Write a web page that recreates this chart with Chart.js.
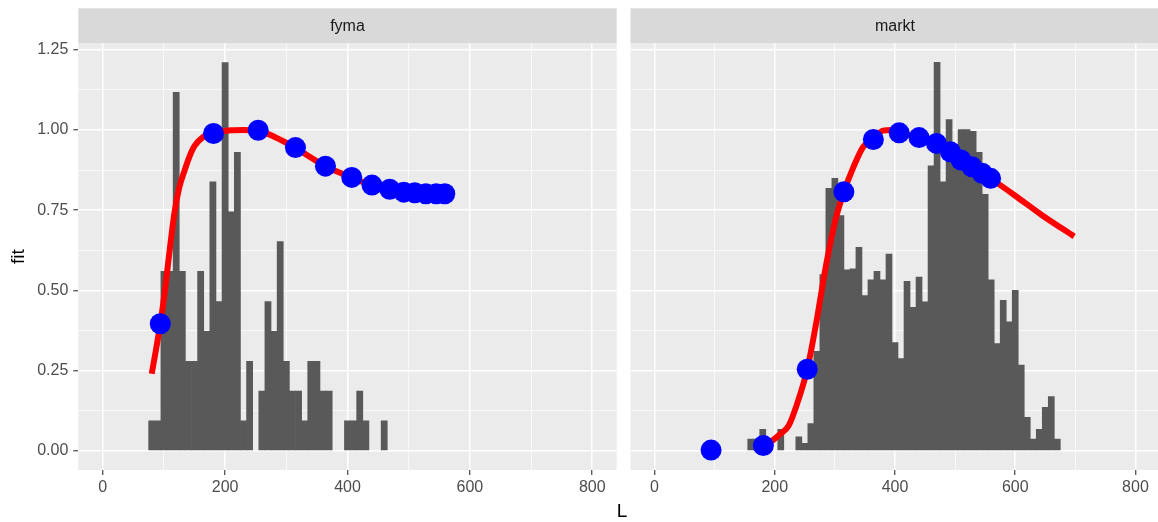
<!DOCTYPE html>
<html>
<head>
<meta charset="utf-8">
<title>fit ~ L</title>
<script src="https://cdn.jsdelivr.net/npm/chart.js@4.4.1/dist/chart.umd.min.js"></script>
<style>
  body { margin: 0; background: #fff; overflow: hidden; width: 1158px; height: 522px; position: relative; }
  canvas { position: absolute; top: 0; }
</style>
</head>
<body>
<canvas id="fyma" width="640" height="522" style="left:0px"></canvas>
<canvas id="markt" width="550" height="522" style="left:620px"></canvas>
<script>
// histogram bins (L, binwidth 10) and their scaled heights
var fymaBinL = [80, 90, 100, 110, 120, 130, 140, 150, 160, 170, 180, 190, 200, 210, 220, 230, 240,
                260, 270, 280, 290, 300, 310, 320, 330, 340, 350, 360, 370, 400, 410, 420, 430, 460];
var fymaBinH = [0.093, 0.093, 0.559, 0.559, 1.117, 0.559, 0.279, 0.279, 0.559, 0.372, 0.838, 0.465, 1.21, 0.745, 0.93, 0.093, 0.279,
                0.186, 0.465, 0.372, 0.652, 0.279, 0.186, 0.186, 0.093, 0.279, 0.279, 0.186, 0.186, 0.093, 0.093, 0.186, 0.093, 0.093];

var marktBinL = [160, 170, 180, 210, 240, 250, 260, 270, 280, 290, 300, 310, 320, 330, 340, 350, 360, 370, 380, 390,
                 400, 410, 420, 430, 440, 450, 460, 470, 480, 490, 500, 510, 520, 530, 540, 550, 560, 570, 580, 590,
                 600, 610, 620, 630, 640, 650, 660, 670];
var marktBinH = [0.036, 0.036, 0.067, 0.067, 0.043, 0.023, 0.085, 0.31, 0.549, 0.818, 0.849, 0.733, 0.564, 0.567, 0.634, 0.484, 0.533, 0.559, 0.533, 0.613,
                 0.337, 0.287, 0.528, 0.447, 0.541, 0.464, 0.888, 1.211, 0.838, 1.032, 0.93, 1.001, 1.001, 0.996, 0.93, 0.799, 0.533, 0.334, 0.469, 0.402,
                 0.5, 0.267, 0.104, 0.036, 0.067, 0.135, 0.169, 0.036];

// observed L values and fitted selectivity at them
var pointL = [94, 181, 254, 315, 364, 407, 440, 469, 492, 510, 528, 545, 559];
var fymaPointFit  = [0.396, 0.989, 0.999, 0.945, 0.887, 0.852, 0.828, 0.815, 0.806, 0.804, 0.801, 0.801, 0.801];
var marktPointFit = [0.002, 0.016, 0.254, 0.807, 0.97, 0.991, 0.976, 0.958, 0.932, 0.906, 0.885, 0.865, 0.849];

// fitted curves
var fymaCurveL   = [80, 87, 94, 101, 109, 117, 125, 134, 142, 150, 164, 180, 210, 230, 253, 281, 314, 364, 406, 439, 468, 492, 510, 527, 545, 559];
var fymaCurveFit = [0.24, 0.315, 0.396, 0.49, 0.62, 0.74, 0.82, 0.875, 0.918, 0.95, 0.978, 0.99, 0.999, 1.0, 0.998, 0.978, 0.945, 0.887, 0.852, 0.828, 0.815, 0.806, 0.804, 0.801, 0.801, 0.8];
var marktCurveL   = [165, 182, 195, 209, 223, 236, 254, 269, 285, 301, 315, 331, 347, 365, 380, 395, 407, 440, 470, 492, 510, 529, 546, 559, 600, 644, 698];
var marktCurveFit = [0.01, 0.016, 0.03, 0.052, 0.078, 0.14, 0.254, 0.399, 0.575, 0.72, 0.807, 0.885, 0.947, 0.975, 0.998, 1.0, 0.991, 0.976, 0.958, 0.932, 0.906, 0.885, 0.865, 0.849, 0.795, 0.735, 0.668];

var xTickLabels = ['0', '200', '400', '600', '800'];

Chart.defaults.font.family = '"Liberation Sans", Arial, sans-serif';

function xy(xs, ys) {
  return xs.map(function (x, i) { return { x: x, y: ys[i] }; });
}

var panelPlugin = {
  id: 'panel',
  beforeDraw: function (chart, args, opts) {
    var a = chart.chartArea, ctx = chart.ctx;
    ctx.save();
    ctx.fillStyle = '#EBEBEB';
    ctx.fillRect(a.left, a.top, a.right - a.left, a.bottom - a.top);
    ctx.fillStyle = '#D9D9D9';
    ctx.fillRect(a.left, 8.3, a.right - a.left, a.top - 8.3);
    ctx.fillStyle = '#1A1A1A';
    ctx.font = '16px "Liberation Sans", Arial, sans-serif';
    ctx.textAlign = 'center';
    ctx.textBaseline = 'middle';
    ctx.fillText(opts.strip, (a.left + a.right) / 2, (8.3 + a.top) / 2 + 1);
    ctx.restore();
  },
  afterDraw: function (chart, args, opts) {
    if (!opts.xTitle) return;
    var ctx = chart.ctx;
    ctx.save();
    ctx.fillStyle = '#000000';
    ctx.font = '19px "Liberation Sans", Arial, sans-serif';
    ctx.textAlign = 'center';
    ctx.textBaseline = 'middle';
    ctx.fillText(opts.xTitle, 622, 512);
    ctx.restore();
  }
};

function isMajorX(v) { return v % 200 === 0; }
function isMajorY(v) { return Math.abs(v * 4 - Math.round(v * 4)) < 1e-6; }

function makeChart(id, strip, binL, binH, curveL, curveFit, pointFit, first) {
  new Chart(document.getElementById(id), {
    type: 'bar',
    data: {
      datasets: [
        { type: 'bar', data: xy(binL, binH), backgroundColor: '#595959', borderWidth: 0,
          barPercentage: 1, categoryPercentage: 1, order: 3 },
        { type: 'line', data: xy(curveL, curveFit), borderColor: '#FF0000', borderWidth: 6,
          pointRadius: 0, cubicInterpolationMode: 'monotone', fill: false, borderCapStyle: 'butt', order: 2 },
        { type: 'line', data: xy(pointL, pointFit), showLine: false, pointRadius: 10.5,
          pointBackgroundColor: '#0000FF', pointBorderWidth: 0, order: 1 }
      ]
    },
    options: {
      responsive: false,
      animation: false,
      events: [],
      layout: { padding: { top: 43.3, left: 0, bottom: 0, right: first ? 23.3 : 2.7 } },
      plugins: {
        legend: { display: false },
        tooltip: { enabled: false },
        panel: { strip: strip, xTitle: first ? 'L' : '' }
      },
      scales: {
        x: {
          type: 'linear', min: -40, max: 840, offset: false,
          border: { display: false },
          grid: {
            offset: false, color: '#FFFFFF', tickLength: 5, tickWidth: 1.1,
            lineWidth: function (c) { return isMajorX(c.tick.value) ? 1.5 : 0.7; },
            tickColor: function (c) { return isMajorX(c.tick.value) ? '#333333' : 'rgba(0,0,0,0)'; }
          },
          ticks: {
            stepSize: 100, includeBounds: false, autoSkip: false, maxRotation: 0, padding: 3,
            color: '#4D4D4D', font: { size: 16 },
            callback: function (v) { return isMajorX(v) ? xTickLabels[v / 200] : ''; }
          },
          afterFit: function (s) { s.height = 52; }
        },
        y: {
          type: 'linear', min: -0.06, max: 1.27,
          border: { display: false },
          grid: {
            color: '#FFFFFF', tickLength: 5, tickWidth: 1.1, drawTicks: first,
            lineWidth: function (c) { return isMajorY(c.tick.value) ? 1.5 : 0.7; },
            tickColor: function (c) { return isMajorY(c.tick.value) ? '#333333' : 'rgba(0,0,0,0)'; }
          },
          ticks: {
            display: first, stepSize: 0.125, includeBounds: false, autoSkip: false, padding: 5,
            color: '#4D4D4D', font: { size: 16 },
            callback: function (v) { return isMajorY(v) ? v.toFixed(2) : ''; }
          },
          title: { display: first, text: 'fit', color: '#000000', font: { size: 19 }, padding: { top: 7 } },
          afterFit: function (s) { s.width = first ? 78.3 : 8.3; }
        }
      }
    },
    plugins: [panelPlugin]
  });
}

makeChart('fyma', 'fyma', fymaBinL, fymaBinH, fymaCurveL, fymaCurveFit, fymaPointFit, true);
makeChart('markt', 'markt', marktBinL, marktBinH, marktCurveL, marktCurveFit, marktPointFit, false);
</script>
</body>
</html>
